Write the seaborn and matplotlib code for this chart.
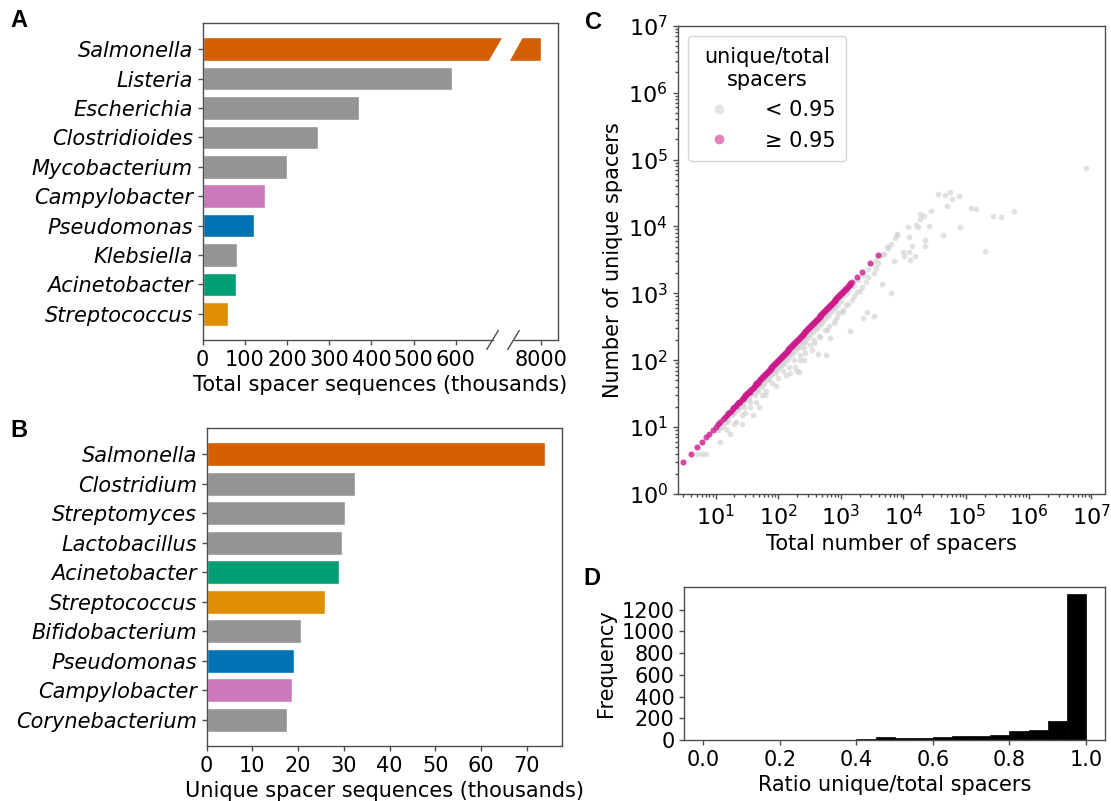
import numpy as np
import matplotlib
matplotlib.use("Agg")
import matplotlib.pyplot as plt
import matplotlib.transforms as mtransforms
from matplotlib.lines import Line2D
from matplotlib.patches import Polygon
from matplotlib.ticker import LogLocator
import seaborn as sns

# ---------------- data ----------------
genera_total = ["Salmonella", "Listeria", "Escherichia", "Clostridioides", "Mycobacterium",
                "Campylobacter", "Pseudomonas", "Klebsiella", "Acinetobacter", "Streptococcus"]
total_thousands = [8000, 590, 370, 273, 200, 147, 122, 81, 79, 59]

genera_unique = ["Salmonella", "Clostridium", "Streptomyces", "Lactobacillus", "Acinetobacter",
                 "Streptococcus", "Bifidobacterium", "Pseudomonas", "Campylobacter", "Corynebacterium"]
unique_thousands = [74.0, 32.4, 30.3, 29.7, 29.0, 25.9, 20.6, 19.1, 18.6, 17.5]

tick_values_a = [0, 100, 200, 300, 400, 500, 600, 8000]
tick_values_b = [0, 10, 20, 30, 40, 50, 60, 70]

# points with unique/total >= 0.95
pink_total = [3, 4, 5, 6, 7, 8, 9, 10, 11, 12, 13, 14, 15, 16, 17, 18, 19, 20, 22, 23, 25, 27, 29, 31,
              33, 35, 38, 41, 44, 47, 50, 54, 58, 62, 66, 71, 76, 81, 87, 93, 100, 107, 115, 123, 132,
              141, 151, 162, 174, 186, 200, 214, 229, 246, 263, 282, 302, 324, 347, 372, 398, 427, 457,
              490, 525, 562, 603, 646, 692, 741, 794, 851, 912, 977, 1047, 1122, 1202, 1288, 1380,
              1423, 1820, 2180, 2950, 3880]
pink_unique = [3, 4, 5, 6, 7, 8, 9, 10, 11, 12, 13, 14, 15, 16, 17, 18, 19, 20, 22, 23, 24, 26, 28, 30,
               32, 34, 37, 40, 43, 46, 49, 53, 56, 60, 64, 69, 74, 79, 85, 91, 97, 104, 112, 120, 128,
               137, 147, 157, 168, 180, 194, 208, 222, 238, 255, 274, 293, 314, 337, 360, 386, 414, 443,
               475, 509, 545, 584, 626, 671, 718, 770, 825, 884, 947, 1014, 1087, 1165, 1248, 1337,
               1410, 1770, 2100, 2810, 3730]
pink_total_b = [21, 24, 26, 28, 30, 32, 34, 36, 39, 42, 45, 48, 52, 56, 60, 64, 68, 73, 78, 84, 90, 96,
                103, 111, 119, 127, 136, 146, 156, 168, 180, 193, 207, 221, 237, 254, 272, 292, 313, 335,
                359, 385, 412, 442, 473, 507, 543, 582, 624, 668, 716, 767, 822, 881, 944, 1011, 1083,
                1160, 1243, 1330, 1500]
pink_unique_b = [21, 24, 26, 28, 30, 32, 34, 36, 39, 42, 45, 48, 52, 56, 60, 64, 68, 73, 78, 84, 90, 96,
                 103, 111, 119, 127, 136, 146, 156, 168, 180, 193, 207, 221, 237, 254, 272, 292, 313, 335,
                 359, 385, 412, 442, 473, 507, 543, 582, 624, 668, 716, 767, 822, 881, 944, 1011, 1083,
                 1160, 1243, 1330, 1480]

# points with unique/total < 0.95
gray_total = [5, 6, 7, 12, 13, 17, 21, 26, 26, 39, 49, 61, 94, 198,
              8200000, 36100, 45600, 54800, 59000, 78200, 49100, 120000, 146000, 269000, 361000, 583000,
              198000, 80100, 43500, 27300, 21600, 18600, 18200, 16100, 16900, 25600, 11600, 12400, 21900,
              22400, 13700, 9860, 12400, 15500, 12900, 10200, 7080, 8010, 7450, 6430, 5690, 4670, 4560,
              6340, 3360, 2660, 2240, 1410, 666, 575, 440, 3940, 3700, 3360, 2720, 2190, 1820, 1510, 1230,
              1050, 871, 771, 604, 472, 370, 348, 272, 226, 188, 157, 256, 213, 131, 5470, 7900,
              10, 11, 12, 14, 15, 16, 18, 19, 20, 22, 24, 25, 27, 28, 30, 32, 34, 35, 37, 40, 42, 44, 46,
              48, 50, 53, 55, 58, 60, 63, 66, 70, 72, 75, 78, 80, 84, 88, 90, 95, 100, 105, 110, 115, 120,
              125, 130, 138, 145, 150, 160, 168, 175, 185, 190, 200, 210, 220, 230, 245, 255, 265, 280,
              295, 310, 325, 340, 360, 375, 395, 410, 430, 450, 475, 500, 520, 550, 580, 610, 640, 680,
              720, 760, 800, 850, 900, 950, 1000, 1100, 1200, 1300, 1600, 1900, 2300, 2700, 3200, 3600,
              4200, 4900,
              15, 20, 30, 35, 45, 55, 65, 80, 100, 120, 150, 180, 220, 260, 320, 380, 450, 550, 650, 800,
              900, 1100, 1300, 1600, 2000, 2500]
gray_unique = [4, 4, 4, 6, 10, 8, 12, 11, 15, 15, 20, 30, 41, 68,
               73800, 30500, 29100, 32300, 25600, 28800, 20400, 18800, 18200, 14500, 14000, 17200,
               4340, 9690, 7520, 17200, 14500, 15300, 12700, 10500, 9680, 10100, 9680, 6860, 6250,
               5150, 5090, 4190, 4090, 3560, 3100, 3560, 3070, 7700, 6620, 5450, 4700, 3860, 1380,
               1000, 457, 519, 432, 273, 212, 118, 122, 2800, 2360, 1990, 1770, 1260, 1060, 794, 668,
               531, 447, 356, 283, 224, 179, 142, 127, 101, 80, 64, 101, 67, 60, 4980, 7430,
               9, 9, 10, 12, 12, 13, 15, 16, 16, 18, 19, 21, 22, 20, 25, 26, 27, 24, 31, 33, 30, 36, 38,
               35, 42, 44, 40, 48, 45, 52, 50, 58, 52, 62, 60, 66, 70, 64, 75, 72, 83, 80, 90, 85, 100,
               92, 108, 100, 120, 110, 132, 125, 145, 135, 158, 150, 175, 160, 190, 180, 212, 190, 232,
               215, 258, 240, 282, 265, 310, 290, 340, 315, 372, 350, 415, 380, 455, 430, 505, 470, 560,
               540, 630, 600, 700, 680, 790, 760, 900, 960, 1080, 1300, 1600, 1900, 2300, 2700, 3100,
               3600, 3900,
               9, 11, 16, 20, 24, 30, 35, 45, 55, 68, 80, 100, 120, 150, 170, 200, 230, 280, 330, 400,
               500, 560, 700, 900, 1100, 1500]

ratio_bin_edges = [0.0, 0.05, 0.1, 0.15, 0.2, 0.25, 0.3, 0.35, 0.4, 0.45, 0.5,
                   0.55, 0.6, 0.65, 0.7, 0.75, 0.8, 0.85, 0.9, 0.95, 1.0]
ratio_bin_centers = [0.025, 0.075, 0.125, 0.175, 0.225, 0.275, 0.325, 0.375, 0.425, 0.475,
                     0.525, 0.575, 0.625, 0.675, 0.725, 0.775, 0.825, 0.875, 0.925, 0.975]
ratio_counts = [3, 1, 1, 1, 1, 1, 1, 3, 6, 32, 15, 21, 24, 34, 40, 49, 83, 92, 174, 1340]

# ---------------- style ----------------
genus_colors = {
    "Salmonella": "#d55e00", "Campylobacter": "#cc78bc", "Pseudomonas": "#0173b2",
    "Acinetobacter": "#029e73", "Streptococcus": "#de8f05",
}
gray_bar = "#949494"
pal_a = {g: genus_colors.get(g, gray_bar) for g in genera_total}
pal_b = {g: genus_colors.get(g, gray_bar) for g in genera_unique}

sns.set_theme(style="ticks")
plt.rcParams.update({
    "font.size": 15, "axes.labelsize": 15, "xtick.labelsize": 15, "ytick.labelsize": 15,
    "legend.fontsize": 15, "legend.title_fontsize": 15,
    "axes.edgecolor": "0.3", "axes.linewidth": 1.0,
    "xtick.color": "0.3", "ytick.color": "0.3",
    "xtick.labelcolor": "black", "ytick.labelcolor": "black",
    "axes.labelcolor": "black", "text.color": "black",
    "xtick.major.size": 3.5, "ytick.major.size": 3.5,
    "xtick.minor.size": 2.0, "ytick.minor.size": 2.0,
    "xtick.major.width": 1.0, "ytick.major.width": 1.0,
})
plt.rcParams["font.family"] = ["DejaVu Sans"]

W, H = 1111, 801
fig = plt.figure(figsize=(W / 100, H / 100), dpi=100)


def box(l, t, r, b):
    return [l / W, 1 - b / H, (r - l) / W, (b - t) / H]


axA = fig.add_axes(box(202.7, 23, 558, 340))
axB = fig.add_axes(box(206.5, 428, 562, 746))
axC = fig.add_axes(box(677.6, 25.7, 1105, 494))
axD = fig.add_axes(box(684.3, 587, 1105, 740))

# ---------------- panel A (broken axis) ----------------
sns.barplot(x=total_thousands, y=genera_total, hue=genera_total, palette=pal_a, orient="h",
            saturation=1, width=0.8, legend=False, ax=axA)
B1, B2, G, R = 673.0, 7595.0, 48.0, 0.2


def fwd(x):
    x = np.asarray(x, dtype=float)
    return np.where(x <= B1, x,
                    np.where(x < B2, B1 + (x - B1) * G / (B2 - B1), B1 + G + (x - B2) * R))


def inv(t):
    t = np.asarray(t, dtype=float)
    return np.where(t <= B1, t,
                    np.where(t < B1 + G, B1 + (t - B1) * (B2 - B1) / G, B2 + (t - B1 - G) / R))


axA.set_xscale("function", functions=(fwd, inv))
axA.set_xlim(0, 8200)
axA.set_xticks(tick_values_a)
axA.set_xticklabels([str(v) for v in tick_values_a])
axA.set_ylim(9.89, -0.89)
axA.set_ylabel("")
axA.set_xlabel("Total spacer sequences (thousands)")
for lbl in axA.get_yticklabels():
    lbl.set_style("italic")
axA.spines["bottom"].set_visible(False)
blend = mtransforms.blended_transform_factory(axA.transAxes, axA.transData)
axA.add_patch(Polygon([(0.8003, 0.5), (0.8482, -0.5), (0.9057, -0.5), (0.8599, 0.5)],
                      closed=True, transform=blend, facecolor="white", edgecolor="none", zorder=5))
c1, c2 = 0.8157, 0.8748
for x0, x1 in [(0, c1), (c2, 1)]:
    axA.plot([x0, x1], [0, 0], transform=axA.transAxes, color="0.3", lw=1.0, clip_on=False, zorder=6)
for c in (c1, c2):
    axA.plot([c - 0.0163, c + 0.0163], [-0.03, 0.03], transform=axA.transAxes, color="0.3",
             lw=1.0, clip_on=False, zorder=6)

# ---------------- panel B ----------------
sns.barplot(x=unique_thousands, y=genera_unique, hue=genera_unique, palette=pal_b, orient="h",
            saturation=1, width=0.8, legend=False, ax=axB)
axB.set_xlim(0, max(unique_thousands) * 1.05)
axB.set_xticks(tick_values_b)
axB.set_ylim(9.89, -0.89)
axB.set_ylabel("")
axB.set_xlabel("Unique spacer sequences (thousands)")
for lbl in axB.get_yticklabels():
    lbl.set_style("italic")

# ---------------- panel C ----------------
gray_c = "#d2d2d2"
pink_c = "#cc1a8c"
sns.scatterplot(x=gray_total, y=gray_unique, color=gray_c, alpha=0.65, s=17, linewidth=0, ax=axC)
sns.scatterplot(x=pink_total + pink_total_b, y=pink_unique + pink_unique_b, color=pink_c, alpha=0.8,
                s=19, linewidth=0, ax=axC)
axC.set_xscale("log")
axC.set_yscale("log")
axC.set_xlim(10 ** 0.395, 10 ** 7.216)
axC.set_ylim(1, 1e7)
for axis in (axC.xaxis, axC.yaxis):
    axis.set_major_locator(LogLocator(base=10, numticks=20))
    axis.set_minor_locator(LogLocator(base=10, subs=np.arange(2, 10) * 0.1 * 10, numticks=20))
axC.tick_params(labelsize=16)
axC.set_xlabel("Total number of spacers")
axC.set_ylabel("Number of unique spacers")
handles = [Line2D([], [], marker="o", linestyle="", markersize=7, markeredgewidth=0,
                  markerfacecolor=gray_c, alpha=0.6),
           Line2D([], [], marker="o", linestyle="", markersize=7, markeredgewidth=0,
                  markerfacecolor=pink_c, alpha=0.55)]
leg = axC.legend(handles, ["< 0.95", "≥ 0.95"], title="unique/total\nspacers", loc="upper left",
                 frameon=True, alignment="center", handletextpad=1.2, borderpad=0.5)
leg.get_title().set_multialignment("center")

# ---------------- panel D ----------------
sns.histplot(x=ratio_bin_centers, weights=ratio_counts, bins=ratio_bin_edges, color="black",
             alpha=1, edgecolor="black", linewidth=0.5, ax=axD)
axD.set_xlim(-0.05, 1.05)
axD.set_ylim(0, max(ratio_counts) * 1.05)
axD.set_yticks([0, 200, 400, 600, 800, 1000, 1200])
axD.set_xlabel("Ratio unique/total spacers")
axD.set_ylabel("Frequency")

# ---------------- panel letters ----------------
for txt, x, y in [("A", 10, 27), ("B", 10, 437), ("C", 585, 29), ("D", 583, 585)]:
    fig.text(x / W, 1 - y / H, txt, fontsize=17, fontweight="bold", family="Liberation Sans",
             va="baseline", ha="left")

fig.savefig("out.png", dpi=100)
